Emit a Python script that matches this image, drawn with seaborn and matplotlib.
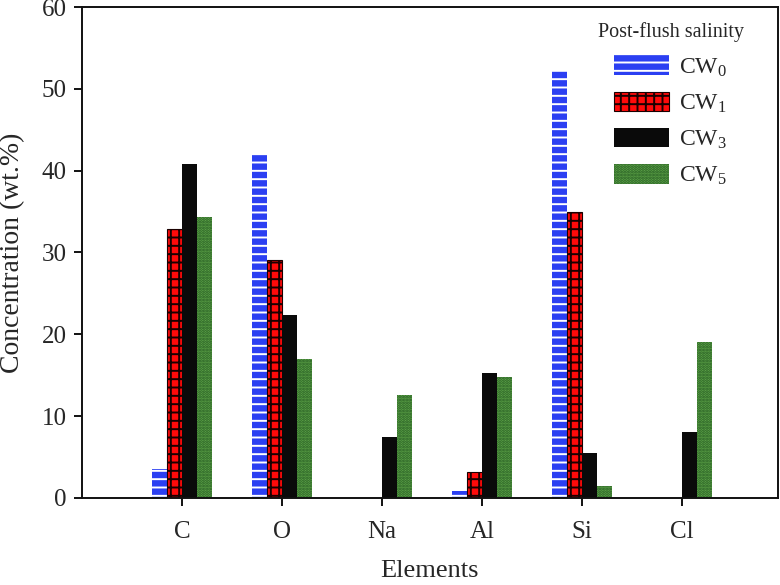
import numpy as np
import pandas as pd
import matplotlib
matplotlib.use("Agg")
import matplotlib.pyplot as plt
import seaborn as sns

elements = ["C", "O", "Na", "Al", "Si", "Cl"]
waters = ["CW0", "CW1", "CW3", "CW5"]
labels = [r"$\mathregular{CW_0}$", r"$\mathregular{CW_1}$",
          r"$\mathregular{CW_3}$", r"$\mathregular{CW_5}$"]
cw0 = [3.5, 42.0, 0.0, 0.8, 52.3, 0.0]
cw1 = [32.9, 29.1, 0.0, 3.1, 35.0, 0.0]
cw3 = [40.8, 22.4, 7.4, 15.3, 5.5, 8.0]
cw5 = [34.3, 17.0, 12.6, 14.8, 1.5, 19.1]

sns.set_style("ticks")
plt.rcParams['font.family'] = ['Liberation Serif', 'DejaVu Serif']
plt.rcParams['hatch.linewidth'] = 1.4

df = pd.DataFrame({
    "element": elements * 4,
    "water": np.repeat(waters, len(elements)),
    "conc": cw0 + cw1 + cw3 + cw5,
})

colors = ["#2b3ff2", "#ff0a0a", "#0a0a0a", "#5fa548"]
hatches = ["--", "++", "", "......"]
edges = ["white", "#1a0000", "#0a0a0a", "#245a22"]
lws = [0, 0.8, 0, 0]

fig = plt.figure(figsize=(7.8, 5.85), dpi=100)
ax = fig.add_axes([0.105, 0.149, 0.892, 0.839])
sns.barplot(data=df, x="element", y="conc", hue="water", order=elements,
            hue_order=waters, palette=colors, width=0.6, errorbar=None,
            legend=False, ax=ax, saturation=1)

for cont, c, h, e, lw in zip(ax.containers, colors, hatches, edges, lws):
    for p in cont:
        p.set_facecolor(c)
        p.set_hatch(h)
        p.set_edgecolor(e)
        p.set_linewidth(lw)

ax.set_xlim(-1, 5.96)
ax.set_ylim(0, 60)
ax.set_yticks(range(0, 61, 10))
for s in ax.spines.values():
    s.set_linewidth(1.4)
    s.set_color("#111111")
ax.tick_params(axis="both", labelsize=18, width=1.4, length=6, color="#111111")
ax.tick_params(axis="x", pad=11)
ax.tick_params(axis="y", pad=5)
ax.set_xlabel("Elements", fontsize=19)
ax.set_ylabel("Concentration (wt.%)", fontsize=20)
ax.xaxis.set_label_coords(0.5, -0.127)
ax.yaxis.set_label_coords(-0.082, 0.5)

leg = ax.legend(ax.containers, labels, title="Post-flush salinity", frameon=False,
                loc="upper right", bbox_to_anchor=(0.982, 1.012), fontsize=17,
                title_fontsize=14.5, handlelength=2.3, handleheight=0.9,
                labelspacing=0.55, handletextpad=0.45)

fig.savefig("out.png", dpi=100)
